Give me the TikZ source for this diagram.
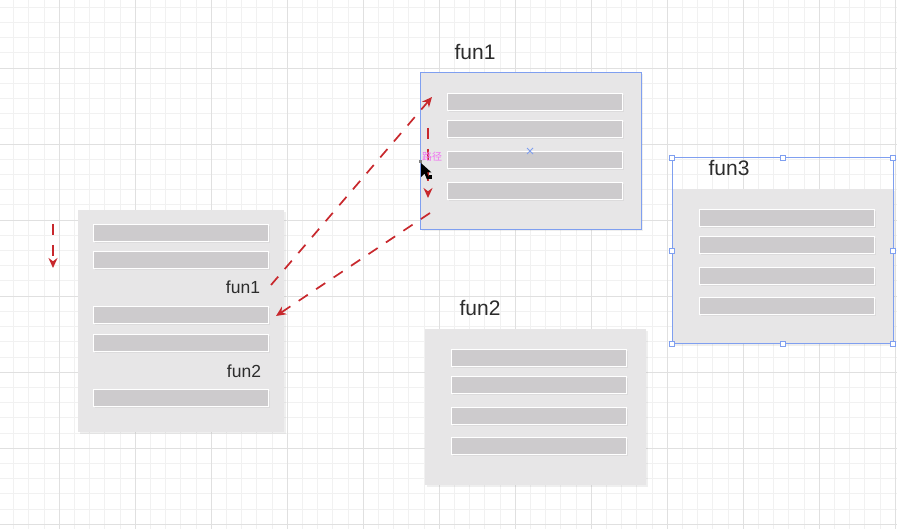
\documentclass[tikz,border=0pt]{standalone}
\usepackage{fontspec}
\setmainfont{Liberation Sans}
\newfontfamily\cjkfont{Noto Sans CJK SC}
\usetikzlibrary{arrows.meta,shadows}

\definecolor{panelgray}{HTML}{E7E6E7}
\definecolor{bargray}{HTML}{CDCBCD}
\definecolor{selblue}{HTML}{7F9FF0}
\definecolor{flowred}{HTML}{C8282D}
\definecolor{labelgray}{HTML}{2C2C2C}
\definecolor{pathpink}{HTML}{F070F0}
\definecolor{minorgrid}{HTML}{F1F1F1}
\definecolor{majorgrid}{HTML}{E0E0E0}

\tikzset{
  panel/.style 2 args={rectangle, fill=panelgray, anchor=north west, inner sep=0pt,
    minimum width=#1pt, minimum height=#2pt,
    drop shadow={opacity=0.12, shadow xshift=1.5pt, shadow yshift=-1.5pt}},
  bar/.style={rectangle, fill=bargray, draw=white, line width=1.4pt, anchor=north west,
    inner sep=0pt, minimum width=175pt, minimum height=17pt,
    drop shadow={opacity=0.1, shadow xshift=1pt, shadow yshift=-1.5pt}},
  funlabel/.style={text=labelgray, font=\fontsize{21}{23}\selectfont, inner sep=0pt},
  sublabel/.style={text=labelgray, font=\fontsize{17.5}{19}\selectfont, inner sep=0pt},
  flow/.style={draw=flowred, line width=1.7pt, dash pattern=on 11pt off 10pt,
    -{Stealth[length=10pt,width=9pt]}},
  handle/.style={rectangle, draw=selblue, fill=white, line width=0.8pt,
    minimum size=5pt, inner sep=0pt}
}

\begin{document}
\begin{tikzpicture}[x=1pt, y=-1pt]
  \useasboundingbox (0,0) rectangle (897,529);
  \fill[white] (0,0) rectangle (897,529);

  % grid
  \foreach \i in {0,...,58}
    \draw[minorgrid, line width=0.6pt] ({13.4+15.2*\i},0) -- ({13.4+15.2*\i},529);
  \foreach \j in {0,...,34}
    \draw[minorgrid, line width=0.6pt] (0,{7.2+15.2*\j}) -- (897,{7.2+15.2*\j});
  \foreach \i in {0,...,11}
    \draw[majorgrid, line width=0.8pt] ({59+76*\i},0) -- ({59+76*\i},529);
  \foreach \j in {0,...,6}
    \draw[majorgrid, line width=0.8pt] (0,{68+76*\j}) -- (897,{68+76*\j});

  % main
  \node[panel={206}{222}] (main) at (78,210) {};
  \foreach \y [count=\i] in {224,251,306,334,389}
    \node[bar] (main-\i) at (93,\y) {};
  \node[sublabel] (mainf1) at (243,287) {fun1};
  \node[sublabel] (mainf2) at (244,371) {fun2};

  % fun1
  \node[panel={221}{157}, draw=selblue, line width=1pt] (fa) at (420,72) {};
  \foreach \y [count=\i] in {93,120,151,182}
    \node[bar] (fa-\i) at (447,\y) {};
  \node[funlabel] (falabel) at (475,52) {fun1};
  \draw[selblue, line width=0.8pt] (527,148) -- (533,154) (527,154) -- (533,148);

  % fun2
  \node[panel={221}{156}] (fb) at (425,329) {};
  \foreach \y [count=\i] in {349,376,407,437}
    \node[bar] (fb-\i) at (451,\y) {};
  \node[funlabel] (fblabel) at (480,308) {fun2};

  % fun3
  \node[panel={221}{155}] (fc) at (672,189) {};
  \foreach \y [count=\i] in {209,236,267,297}
    \node[bar] (fc-\i) at (699,\y) {};
  \node[funlabel] (fclabel) at (729,168) {fun3};
  \draw[selblue, line width=1pt] (672,158) rectangle (893,344);
  \foreach \x/\y in {672/158,783/158,893/158,672/251,893/251,672/344,783/344,893/344}
    \node[handle] at (\x,\y) {};

  % arrows
  \coordinate (s1) at (53,224);
  \coordinate (e1) at (53,268);
  \coordinate (s2) at (271,285);
  \coordinate (e2) at (432,97);
  \coordinate (s3) at (430,213);
  \coordinate (e3) at (276,316);
  \coordinate (s4) at (428,128);
  \coordinate (e4) at (428,198);
  \draw[flow] (s1) -- (e1);
  \draw[flow] (s2) -- (e2);
  \draw[flow] (s3) -- (e3);
  \draw[flow] (s4) -- (e4);

  % path hint and cursor
  \node[text=pathpink, font=\cjkfont\fontsize{10}{11}\selectfont, inner sep=0pt] (hint) at (432,157) {路径};
  \fill[gray] (418.5,160.5) rectangle (421.5,163.5);
  \fill[black] (421,163) -- (421,177) -- (424.5,173.5) -- (427,179.5) -- (429.5,178.5) -- (427,172.5) -- (431.5,172.5) -- cycle;
  \fill[black] (428.5,175.5) rectangle (432,179);
\end{tikzpicture}
\end{document}
